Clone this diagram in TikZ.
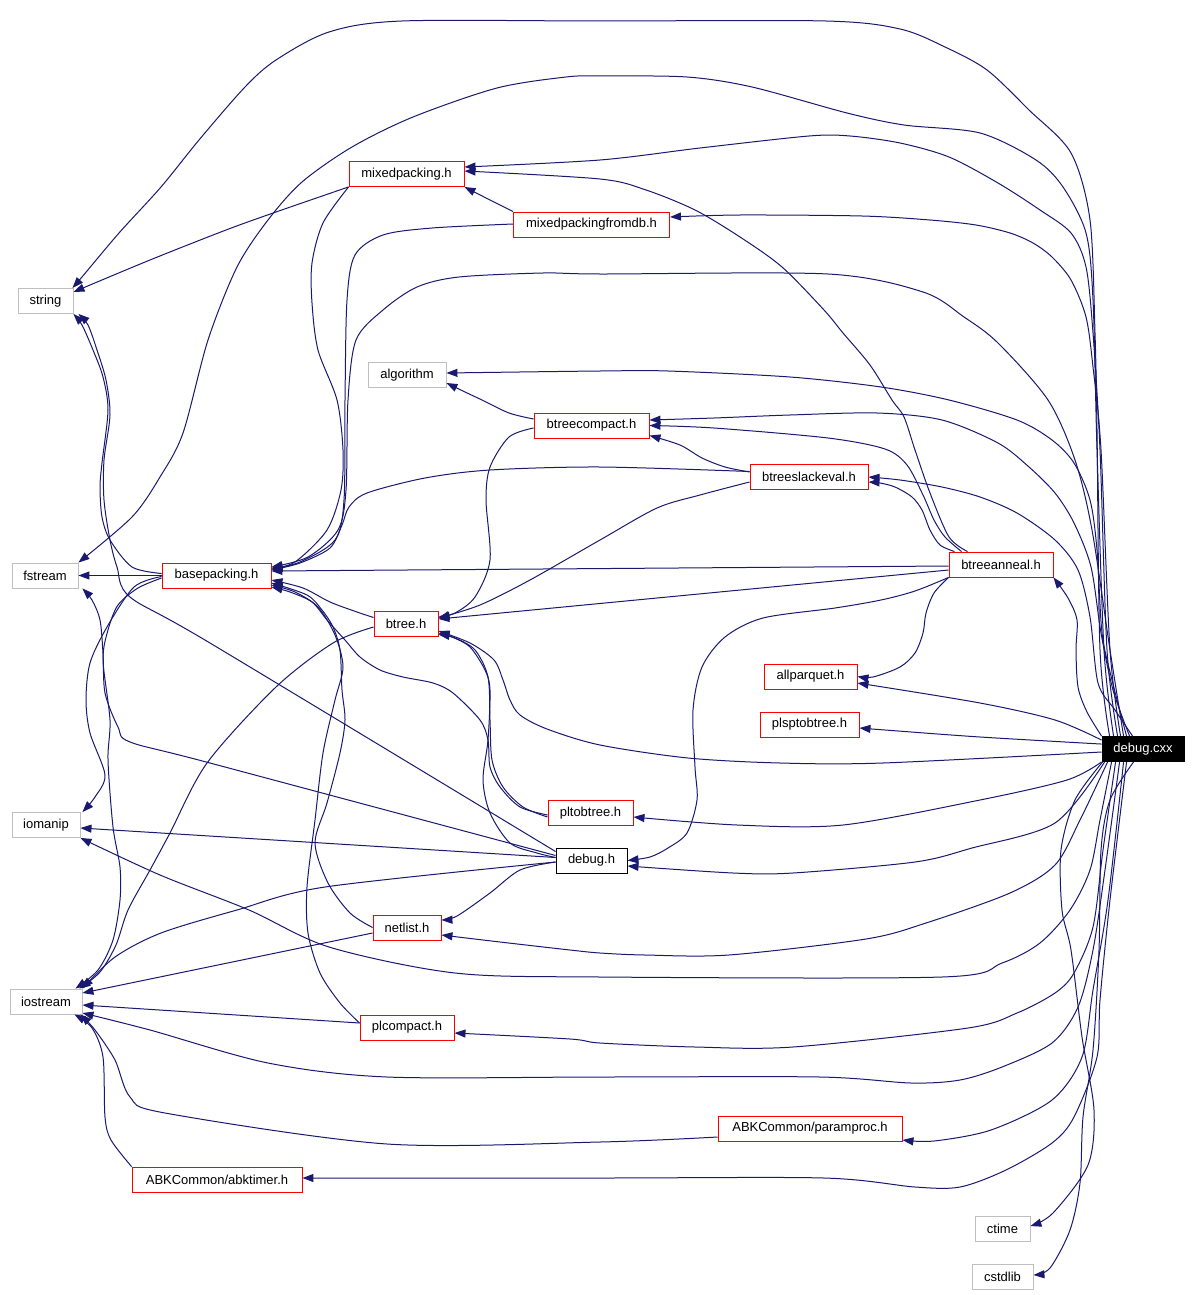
\documentclass[tikz,border=0pt]{standalone}
\usepackage{fontspec}
\setmainfont{Liberation Sans}
\usetikzlibrary{arrows.meta}
\definecolor{edgec}{HTML}{191970}
\definecolor{leafc}{HTML}{BFBFBF}
\begin{document}
\begin{tikzpicture}[x=1pt,y=-1pt,
  nbox/.style={draw, fill=white, inner sep=0pt, minimum height=25pt, line width=0.9pt, font=\fontsize{13}{15}\selectfont},
  redb/.style={nbox, draw=red},
  leafb/.style={nbox, draw=leafc},
  blkb/.style={nbox, draw=black},
  rootb/.style={nbox, draw=black, fill=black, text=white},
  conn/.style={draw=edgec, line width=1pt, -{Triangle[length=11pt,width=8pt]}},
  sm/.style={smooth, tension=0.5}]
\fill[white] (0,0) rectangle (1195,1295);
\useasboundingbox (0,0) rectangle (1195,1295);

% nodes
\node[leafb, minimum width=55pt] (string) at (45.5,301) {string};
\node[leafb, minimum width=66pt] (fstream) at (45,575.5) {fstream};
\node[leafb, minimum width=68pt] (iomanip) at (46,825) {iomanip};
\node[leafb, minimum width=72pt] (iostream) at (46,1001.5) {iostream};
\node[redb, minimum width=115pt] (mixedpacking) at (406.5,174) {mixedpacking.h};
\node[redb, minimum width=156pt] (mixedpackingfromdb) at (591.5,224.5) {mixedpackingfromdb.h};
\node[leafb, minimum width=78pt] (algorithm) at (407,375) {algorithm};
\node[redb, minimum width=115pt] (btreecompact) at (591.5,425.5) {btreecompact.h};
\node[redb, minimum width=118pt] (btreeslackeval) at (809,476.5) {btreeslackeval.h};
\node[redb, minimum width=104pt] (btreeanneal) at (1001,564.5) {btreeanneal.h};
\node[redb, minimum width=109pt] (basepacking) at (216.5,575.5) {basepacking.h};
\node[redb, minimum width=64pt] (btree) at (406,623.5) {btree.h};
\node[redb, minimum width=93pt] (allparquet) at (810.5,676.5) {allparquet.h};
\node[redb, minimum width=99pt] (plsptobtree) at (809.5,724.5) {plsptobtree.h};
\node[redb, minimum width=85pt] (pltobtree) at (590.5,813) {pltobtree.h};
\node[blkb, minimum width=71pt] (debughdr) at (591.5,860.5) {debug.h};
\node[redb, minimum width=68pt] (netlist) at (407,927.5) {netlist.h};
\node[redb, minimum width=94pt] (plcompact) at (407,1027.5) {plcompact.h};
\node[redb, minimum width=184pt] (paramproc) at (810,1128.5) {ABKCommon/paramproc.h};
\node[redb, minimum width=170pt] (abktimer) at (217,1179.5) {ABKCommon/abktimer.h};
\node[leafb, minimum width=55pt] (ctime) at (1002.5,1228.5) {ctime};
\node[leafb, minimum width=61pt] (cstdlib) at (1002.5,1276.5) {cstdlib};
\node[rootb, minimum width=82pt] (debugcxx) at (1143,749) {debug.cxx};

% debug.cxx -> upper targets
\draw[conn] plot[sm] coordinates {([xshift=8pt]debugcxx.north west) (1100,650) (1097,430) (1095,333) (1090,220) (1071,153) (1029,110) (987,70) (945,47) (900,29) (826,21) (600,21) (402,21) (329,32) (276,60) (245,87) (199,140) (161,187) (119,233) (82,277) ([xshift=-1pt]string.north east)};
\draw[conn] plot[sm] coordinates {([xshift=12pt]debugcxx.north west) (1104,650) (1097,450) (1093,300) (1086,233) (1063,187) (1036,160) (980,133) (904,125) (847,113) (752,87) (687,77) (600,76) (566,77) (497,88) (413,117) (352,147) (302,182) (268,220) (237,267) (208,340) (183,433) (160,477) (132,517) (fstream.north east)};
\draw[conn] plot[sm] coordinates {([xshift=16pt]debugcxx.north west) (1107,650) (1100,450) (1093,333) (1086,267) (1071,233) (1040,210) (998,183) (949,157) (900,143) (850,136) (809,136) (700,148) (600,160) ([yshift=7pt]mixedpacking.east)};
\draw[conn] plot[sm] coordinates {([xshift=19pt]debugcxx.north west) (1110,650) (1101,450) (1093,367) (1086,317) (1071,280) (1052,257) (1033,243) (1010,233) (976,225) (930,220) (862,216) (740,215) ([yshift=7.5pt]mixedpackingfromdb.east)};
\draw[conn] plot[sm] coordinates {([xshift=22pt]debugcxx.north west) (1110,650) (1092,530) (1075,460) (1048,400) (998,343) (964,317) (923,292) (828,274) (600,274) (543,273) (459,277) (417,287) (383,310) (356,340) (348,400) (346,490) (338,530) (308,557) ([yshift=8.5pt]basepacking.east)};
\draw[conn] plot[sm] coordinates {([xshift=25pt]debugcxx.north west) (1112,680) (1102,633) (1097,550) (1090,500) (1074,463) (1052,440) (1017,420) (949,400) (881,387) (790,377) (668,371) (600,371) ([yshift=2pt]algorithm.east)};
\draw[conn] plot[sm] coordinates {([xshift=28pt]debugcxx.north west) (1113,690) (1101,633) (1091,567) (1074,523) (1055,493) (1029,467) (998,443) (942,420) (877,413) (790,415) (714,418) ([yshift=5.5pt]btreecompact.east)};
\draw[conn] plot[sm] coordinates {([xshift=31pt]debugcxx.north west) (1115,710) (1098,683) (1090,617) (1078,570) (1055,540) (1017,513) (980,497) (942,487) (900,480) ([yshift=-0.5pt]btreeslackeval.east)};
\draw[conn] plot[sm] coordinates {(debugcxx.north west) (1087,712) (1078,687) (1076,650) (1077,620) (1068,598) (btreeanneal.south east)};
\draw[conn] plot[sm] coordinates {([yshift=-4pt]debugcxx.north west) (1055,720) (980,703) ([yshift=-6.5pt]allparquet.east)};
\draw[conn] plot[sm] coordinates {([yshift=-8pt]debugcxx.north west) (980,737) (885,730) ([yshift=-3.5pt]plsptobtree.east)};
\draw[conn] plot[sm] coordinates {([yshift=-3pt]debugcxx.west) (883,763) (780,763) (688,758) (600,745) (547,729) (520,715) (510,700) (503,680) (494,660) (470,643) ([yshift=-7.5pt]btree.east)};
\draw[conn] plot[sm] coordinates {(debugcxx.south west) (1067,780) (980,800) (843,825) (737,825) ([yshift=-4pt]pltobtree.east)};
\draw[conn] plot[sm] coordinates {([xshift=3pt]debugcxx.south west) (1055,823) (972,848) (915,862) (793,873) (733,873) ([yshift=-5.5pt]debughdr.east)};
% debug.cxx -> lower targets
\draw[conn] plot[sm] coordinates {([xshift=6pt]debugcxx.south west) (1080,820) (1055,865) (1010,893) (926,923) (866,939) (729,955) (645,955) (600,953) (570,950) (500,942) ([yshift=-7.5pt]netlist.east)};
\draw[conn] plot[sm] coordinates {([xshift=10pt]debugcxx.south west) (1100,820) (1090,870) (1070,910) (1040,943) (1002,963) (942,977) (600,977) (455,973) (329,947) (249,910) (160,875) (iomanip.south east)};
\draw[conn] plot[sm] coordinates {([xshift=14pt]debugcxx.south west) (1103,850) (1093,927) (1074,973) (1055,993) (1017,1013) (968,1028) (793,1047) (695,1047) (600,1043) (570,1039) ([yshift=-5.5pt]plcompact.east)};
\draw[conn] plot[sm] coordinates {([xshift=18pt]debugcxx.south west) (1105,870) (1093,950) (1078,1007) (1052,1043) (1002,1067) (960,1080) (911,1083) (820,1077) (600,1077) (387,1077) (268,1063) (150,1030) ([yshift=-11.5pt]iostream.east)};
\draw[conn] plot[sm] coordinates {([xshift=22pt]debugcxx.south west) (1108,900) (1093,990) (1082,1057) (1052,1100) (991,1130) (934,1141) ([yshift=-11.5pt]paramproc.east)};
\draw[conn] plot[sm] coordinates {([xshift=25pt]debugcxx.south west) (1110,900) (1100,1000) (1097,1057) (1074,1117) (1052,1143) (1006,1170) (960,1187) (915,1187) (824,1178) (600,1178) ([yshift=1.5pt]abktimer.east)};
\draw[conn] plot[sm] coordinates {([xshift=1pt]debugcxx.south west) (1075,800) (1061,850) (1062,910) (1071,950) (1082,1037) (1094,1110) (1088,1165) (1053,1213) ([yshift=2.5pt]ctime.east)};
\draw[conn] plot[sm] coordinates {([xshift=32pt]debugcxx.south west) (1110,800) (1101,850) (1099,950) (1093,1050) (1083,1117) (1080,1183) (1070,1230) (1050,1268) ([yshift=1.5pt]cstdlib.east)};

% btreeanneal.h
\draw[conn] plot[sm] coordinates {([xshift=19pt]btreeanneal.north west) (949,537) (930,493) (915,450) (904,417) (892,400) (870,365) (843,333) (824,310) (782,267) (740,237) (695,210) (646,190) (600,179) ([yshift=3pt]mixedpacking.east)};
\draw[conn] plot[sm] coordinates {([xshift=13pt]btreeanneal.north west) (945,537) (934,520) (923,495) (907,465) (885,449) (828,438) (714,428) (btreecompact.east)};
\draw[conn] plot[sm] coordinates {([xshift=6pt]btreeanneal.north west) (940,545) (930,530) (922,510) (912,497) (895,487) (880,483) ([yshift=-5.5pt]btreeslackeval.east)};
\draw[conn] ([yshift=-1.5pt]btreeanneal.west) -- ([yshift=4.5pt]basepacking.east);
\draw[conn] ([yshift=-5.5pt]btreeanneal.west) -- ([yshift=4.5pt]btree.east);
\draw[conn] plot[sm] coordinates {(btreeanneal.south west) (934,593) (926,613) (923,633) (915,653) (900,667) (873,677) (allparquet.east)};
\draw[conn] plot[sm] coordinates {(btreeanneal.south west) (915,591) (881,600) (835,608) (763,618) (725,637) (702,667) (693,710) (695,767) (697,800) (687,833) (668,848) (650,857) (debughdr.east)};

% btreeslackeval.h
\draw[conn] plot[sm] coordinates {([yshift=4.5pt]btreeslackeval.west) (725,467) (702,458) (680,445) ([yshift=-10pt]btreecompact.east)};
\draw[conn] plot[sm] coordinates {([yshift=5pt]btreeslackeval.west) (600,467) (490,470) (425,478) (367,493) (349,507) (342,525) (330,548) (300,563) ([yshift=5.5pt]basepacking.east)};
\draw[conn] plot[sm] coordinates {([yshift=-5.5pt]btreeslackeval.west) (700,495) (657,508) (600,540) (530,580) (480,605) ([yshift=5.5pt]btree.east)};

% btreecompact.h
\draw[conn] plot[sm] coordinates {([yshift=6.5pt]btreecompact.west) (509,413) (482,400) (465,392) ([yshift=-8pt]algorithm.east)};
\draw[conn] plot[sm] coordinates {([yshift=-2.5pt]btreecompact.west) (509,437) (490,467) (486,500) (490,560) (475,597) (455,613) ([yshift=6.5pt]btree.east)};

% mixedpacking.h
\draw[conn] plot[sm] coordinates {(mixedpacking.south west) (276,212) (226,230) (150,260) ([yshift=9pt]string.east)};
\draw[conn] plot[sm] coordinates {(mixedpacking.south west) (323,223) (312,263) (312,303) (318,350) (337,400) (343,450) (341,490) (327,530) (295,562) ([yshift=7.5pt]basepacking.east)};

% mixedpackingfromdb.h
\draw[conn] plot[sm] coordinates {(mixedpackingfromdb.north west) (490,200) (mixedpacking.south east)};
\draw[conn] plot[sm] coordinates {([yshift=0.5pt]mixedpackingfromdb.west) (432,228) (383,235) (355,255) (347,300) (345,400) (344,500) (335,540) (300,562) ([yshift=6.5pt]basepacking.east)};

% basepacking.h
\draw[conn] (basepacking.west) -- (fstream.east);
\draw[conn] plot[sm] coordinates {([yshift=2pt]basepacking.west) (132,567) (110,540) (102,517) (100,487) (102,463) (108,410) (103,377) (93,350) (82,325) (string.south east)};
\draw[conn] plot[sm] coordinates {([yshift=-1pt]basepacking.west) (134,587) (107,627) (90,663) (86,700) (90,733) (105,775) (95,797) ([xshift=2pt]iomanip.north east)};
\draw[conn] plot[sm] coordinates {([yshift=-2.5pt]basepacking.west) (138,588) (118,605) (108,630) (103,660) (110,720) (108,760) (113,827) (120,867) (120,900) (113,940) (98,970) ([xshift=-7pt]iostream.north east)};

% btree.h
\draw[conn] plot[sm] coordinates {([yshift=6pt]btree.west) (357,612) (330,602) (303,588) ([yshift=-4.5pt]basepacking.east)};
\draw[conn] plot[sm] coordinates {([yshift=-3.5pt]btree.west) (333,643) (276,687) (207,763) (170,833) (150,870) (128,910) (116,945) (100,972) ([xshift=-3pt]iostream.north east)};

% debug.h
\draw[conn] plot[sm] coordinates {([yshift=9pt]debughdr.west) (210,643) (130,597) (117,567) (110,540) (104,500) (104,460) (110,415) (106,380) (97,350) (88,325) ([xshift=5pt]string.south east)};
\draw[conn] plot[sm] coordinates {([yshift=5pt]debughdr.west) (210,763) (130,742) (118,727) (105,693) (103,653) (100,620) (92,600) ([xshift=4pt]fstream.south east)};
\draw[conn] ([yshift=3pt]debughdr.west) -- ([yshift=-3pt]iomanip.east);
\draw[conn] plot[sm] coordinates {([yshift=-1.5pt]debughdr.west) (325,887) (237,910) (161,933) (115,957) (iostream.north east)};
\draw[conn] plot[sm] coordinates {([yshift=-1.5pt]debughdr.west) (520,870) (490,893) (457,916) ([yshift=7.5pt]netlist.east)};
\draw[conn] plot[sm] coordinates {([yshift=3pt]debughdr.west) (537,853) (510,843) (490,813) (483,780) (488,740) (490,690) (485,670) (470,647) (452,637) ([yshift=-9.5pt]btree.east)};

% pltobtree.h
\draw[conn] plot[sm] coordinates {([yshift=-2pt]pltobtree.west) (520,807) (500,787) (490,767) (488,740) (480,720) (453,693) (433,683) (403,677) (380,670) (360,657) (345,640) (327,620) (312,602) (290,592) ([yshift=-11.5pt]basepacking.east)};
\draw[conn] plot[sm] coordinates {([yshift=-4pt]pltobtree.west) (523,807) (503,787) (492,760) (490,720) (488,677) (475,650) (455,638) ([yshift=-11pt]btree.east)};

% netlist.h
\draw[conn] plot[sm] coordinates {(netlist.west) (350,913) (328,883) (315,843) (327,803) (340,753) (345,720) (342,690) (340,650) (333,627) (322,610) (307,595) ([yshift=-7.5pt]basepacking.east)};
\draw[conn] ([yshift=-5.5pt]netlist.west) -- ([yshift=8.5pt]iostream.east);

% plcompact.h
\draw[conn] plot[sm] coordinates {([yshift=4.5pt]plcompact.west) (340,1003) (320,973) (308,933) (307,887) (315,820) (323,753) (335,700) (343,667) (335,635) (318,607) (295,592) ([yshift=-9.5pt]basepacking.east)};
\draw[conn] ([yshift=4.5pt]plcompact.west) -- ([yshift=-3.5pt]iostream.east);

% ABKCommon
\draw[conn] plot[sm] coordinates {([yshift=-8.5pt]paramproc.west) (600,1142) (387,1144) (165,1113) (130,1097) (115,1060) (95,1030) ([xshift=-2pt]iostream.south east)};
\draw[conn] plot[sm] coordinates {(abktimer.north west) (111,1140) (105,1117) (103,1057) (92,1028) ([xshift=-8pt]iostream.south east)};
\end{tikzpicture}
\end{document}
